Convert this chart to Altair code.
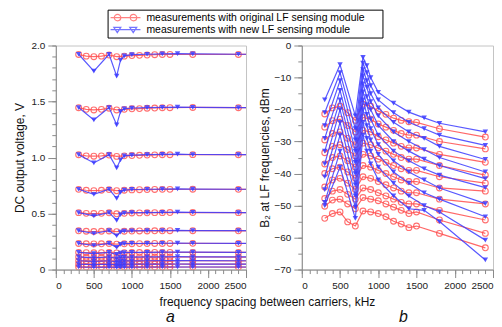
import altair as alt
import pandas as pd

FONT = "Liberation Sans"
ORIG = "measurements with original LF sensing module"
NEW = "measurements with new LF sensing module"
RED = "#ff4d4d"
BLUE = "#3c3cff"

# frequency spacing (kHz) at which each series was measured
x_orig = [300, 400, 500, 600, 700, 800, 900, 1000, 1100, 1200, 1300, 1400, 1500, 1800, 2400]
x_new = [300, 500, 700, 800, 850, 900, 1000, 1200, 1400, 1600, 1800, 2400]

# panel a: DC output voltage, V
a_orig = [
    [1.920, 1.905, 1.900, 1.905, 1.915, 1.900, 1.905, 1.910, 1.912, 1.915, 1.918, 1.920, 1.920, 1.920, 1.920],
    [1.445, 1.430, 1.425, 1.430, 1.440, 1.425, 1.430, 1.435, 1.437, 1.440, 1.442, 1.445, 1.445, 1.447, 1.445],
    [1.025, 1.015, 1.012, 1.015, 1.022, 1.010, 1.015, 1.018, 1.020, 1.022, 1.024, 1.025, 1.025, 1.026, 1.025],
    [0.716, 0.708, 0.705, 0.708, 0.714, 0.704, 0.708, 0.711, 0.713, 0.714, 0.715, 0.716, 0.716, 0.717, 0.716],
    [0.508, 0.502, 0.500, 0.502, 0.507, 0.498, 0.502, 0.505, 0.506, 0.507, 0.508, 0.508, 0.509, 0.509, 0.508],
    [0.346, 0.342, 0.340, 0.342, 0.345, 0.338, 0.342, 0.344, 0.345, 0.345, 0.346, 0.346, 0.347, 0.347, 0.346],
    [0.233, 0.230, 0.229, 0.230, 0.232, 0.227, 0.230, 0.231, 0.232, 0.232, 0.233, 0.233, 0.233, 0.234, 0.233],
    [0.153, 0.151, 0.150, 0.151, 0.152, 0.149, 0.151, 0.152, 0.152, 0.153, 0.153, 0.153, 0.153, 0.154, 0.153],
    [0.112, 0.110, 0.109, 0.110, 0.111, 0.108, 0.110, 0.111, 0.111, 0.112, 0.112, 0.112, 0.112, 0.113, 0.112],
    [0.078, 0.077, 0.076, 0.077, 0.078, 0.075, 0.077, 0.077, 0.078, 0.078, 0.078, 0.078, 0.078, 0.079, 0.078],
    [0.048, 0.047, 0.047, 0.047, 0.048, 0.046, 0.047, 0.047, 0.048, 0.048, 0.048, 0.048, 0.048, 0.049, 0.048],
    [0.022, 0.022, 0.021, 0.022, 0.022, 0.021, 0.022, 0.022, 0.022, 0.022, 0.022, 0.022, 0.022, 0.023, 0.022],
]
a_new = [
    [1.922, 1.771, 1.922, 1.727, 1.869, 1.907, 1.918, 1.922, 1.925, 1.928, 1.925, 1.922],
    [1.446, 1.336, 1.446, 1.292, 1.410, 1.435, 1.442, 1.446, 1.448, 1.450, 1.448, 1.446],
    [1.026, 0.952, 1.026, 0.907, 0.980, 1.015, 1.022, 1.026, 1.028, 1.030, 1.027, 1.026],
    [0.717, 0.671, 0.717, 0.636, 0.690, 0.710, 0.715, 0.717, 0.718, 0.720, 0.718, 0.717],
    [0.509, 0.479, 0.509, 0.440, 0.490, 0.505, 0.508, 0.509, 0.510, 0.512, 0.510, 0.509],
    [0.347, 0.322, 0.347, 0.302, 0.335, 0.344, 0.346, 0.347, 0.348, 0.350, 0.348, 0.347],
    [0.234, 0.215, 0.234, 0.198, 0.225, 0.231, 0.233, 0.234, 0.235, 0.236, 0.235, 0.234],
    [0.154, 0.143, 0.154, 0.135, 0.148, 0.152, 0.153, 0.154, 0.155, 0.156, 0.155, 0.154],
    [0.113, 0.105, 0.113, 0.099, 0.108, 0.111, 0.112, 0.113, 0.114, 0.115, 0.114, 0.113],
    [0.079, 0.073, 0.079, 0.069, 0.076, 0.078, 0.078, 0.079, 0.080, 0.080, 0.080, 0.079],
    [0.049, 0.045, 0.049, 0.042, 0.047, 0.048, 0.048, 0.049, 0.049, 0.050, 0.049, 0.049],
    [0.023, 0.021, 0.023, 0.019, 0.022, 0.022, 0.022, 0.023, 0.023, 0.023, 0.023, 0.023],
]

# panel b: B2 at LF frequencies, dBm
b_orig = [
    [-21.4, -19.5, -19.0, -21.0, -23.4, -18.3, -19.0, -20.5, -21.5, -22.7, -23.4, -23.8, -24.0, -26.0, -28.6],
    [-25.5, -23.5, -23.0, -25.0, -27.0, -22.5, -23.0, -24.5, -25.5, -26.5, -27.5, -28.0, -28.0, -30.0, -32.3],
    [-29.5, -27.5, -27.0, -29.0, -31.0, -26.5, -27.0, -28.5, -29.5, -30.5, -31.5, -32.0, -32.0, -34.0, -36.5],
    [-33.5, -31.5, -31.0, -32.5, -34.5, -30.5, -31.0, -32.0, -33.0, -34.0, -35.0, -35.5, -35.5, -37.5, -40.5],
    [-37.0, -35.0, -34.5, -36.0, -38.0, -34.0, -34.5, -35.5, -36.5, -37.5, -38.5, -39.0, -39.0, -41.0, -43.0],
    [-40.0, -38.5, -38.0, -39.5, -41.5, -37.5, -38.0, -39.0, -40.0, -41.0, -42.0, -42.5, -42.5, -44.5, -45.5],
    [-44.2, -42.0, -41.5, -43.0, -45.0, -41.0, -41.5, -42.5, -43.5, -44.5, -45.5, -46.0, -46.0, -48.0, -49.5],
    [-47.8, -45.5, -45.0, -46.5, -48.0, -44.5, -45.0, -46.0, -47.0, -48.0, -49.0, -49.5, -49.5, -51.5, -54.5],
    [-50.2, -48.3, -48.0, -49.5, -51.0, -47.5, -48.0, -48.5, -49.5, -50.5, -51.5, -52.5, -52.0, -54.5, -58.7],
    [-54.0, -52.5, -52.0, -55.1, -56.4, -51.7, -52.0, -52.5, -53.5, -54.9, -55.8, -56.9, -56.4, -58.7, -63.2],
]
b_new = [
    [-17.0, -6.0, -22.0, -3.7, -6.3, -10.0, -14.6, -18.0, -20.8, -22.6, -24.3, -27.0],
    [-21.0, -8.5, -26.0, -5.5, -8.5, -12.5, -17.0, -21.0, -24.0, -26.0, -28.0, -31.2],
    [-25.0, -11.0, -29.5, -7.5, -11.0, -15.0, -19.5, -24.0, -27.0, -29.0, -31.5, -35.6],
    [-29.0, -14.0, -33.0, -9.5, -13.0, -17.5, -22.0, -27.0, -30.0, -32.5, -35.0, -39.5],
    [-33.0, -17.0, -36.5, -12.0, -16.0, -20.0, -25.0, -30.0, -33.0, -35.5, -37.5, -41.6],
    [-37.0, -20.0, -40.0, -14.5, -18.5, -23.0, -28.0, -33.0, -36.0, -38.5, -40.5, -44.4],
    [-41.0, -24.0, -43.5, -17.0, -21.5, -26.0, -31.0, -36.0, -39.5, -42.0, -44.5, -49.4],
    [-45.0, -28.0, -47.0, -20.0, -25.0, -29.5, -34.0, -39.5, -43.0, -46.0, -48.0, -53.5],
    [-49.0, -33.0, -50.5, -24.0, -29.0, -33.0, -38.0, -43.0, -47.0, -50.0, -52.0, -60.8],
    [-50.0, -38.0, -54.0, -28.0, -33.0, -37.0, -42.0, -47.0, -51.0, -51.5, -55.0, -67.0],
]

x_major = [0, 500, 1000, 1500, 2000, 2500]
x_minor = list(range(0, 2600, 100))
a_major = [0, 0.5, 1.0, 1.5, 2.0]
a_minor = [round(i * 0.1, 1) for i in range(21)]
b_major = [-70, -60, -50, -40, -30, -20, -10, 0]
b_minor = list(range(-70, 1, 5))
panel_labels = ["a", "b"]

# legend symbols: a line with two markers
SYM_O = ("M-1,0L5,0M-0.25,0A0.65,0.65 0 1,0 1.05,0A0.65,0.65 0 1,0 -0.25,0"
         "M2.95,0A0.65,0.65 0 1,0 4.25,0A0.65,0.65 0 1,0 2.95,0")
SYM_N = "M-1,0L5,0M-0.35,-0.45L1.05,-0.45L0.35,0.6ZM2.85,-0.45L4.25,-0.45L3.55,0.6Z"


def rows(xs, curves, series, tag, end=None):
    out = []
    for i, ys in enumerate(curves):
        for x, y in zip(xs, ys):
            out.append({"series": series, "curve": f"{tag}{i}", "x": x, "y": y})
        if end is not None:
            out.append({"series": series, "curve": f"{tag}{i}", "x": end, "y": ys[-1]})
    return pd.DataFrame(out)


W_A, W_B, H = 191, 192, 225


def panel(o_curves, n_curves, ydom, ymajor, yminor, ytitle, ylabel_kw, ytitle_pad,
          xtitle_kw, label, label_x, width, extend, with_legend):
    xs = alt.Scale(domain=[0, 2500], nice=False, zero=False)
    ys = alt.Scale(domain=ydom, nice=False, zero=False)
    ax_x = alt.Axis(values=x_major, format="d", tickSize=8, labelPadding=3, orient="bottom",
                    grid=False, **xtitle_kw)
    ax_xm = alt.Axis(values=x_minor, labels=False, tickSize=4, domain=False, title=None,
                     orient="bottom", grid=False)
    ax_y = alt.Axis(values=ymajor, tickSize=8, labelPadding=3, orient="left", grid=False,
                    title=ytitle, titlePadding=ytitle_pad, **ylabel_kw)
    ax_ym = alt.Axis(values=yminor, labels=False, tickSize=4, domain=False, title=None,
                     orient="left", grid=False)
    end = 2500 if extend else None
    o_pts = rows(x_orig, o_curves, ORIG, "o")
    n_pts = rows(x_new, n_curves, NEW, "n")
    o_line = rows(x_orig, o_curves, ORIG, "o", end)
    n_line = rows(x_new, n_curves, NEW, "n", end)

    l1 = alt.Chart(o_line).mark_line(color=RED, strokeWidth=1.2, opacity=0.85, clip=True).encode(
        x=alt.X("x:Q", scale=xs, axis=ax_x), y=alt.Y("y:Q", scale=ys, axis=ax_y), detail="curve:N")
    p1 = alt.Chart(o_pts).mark_point(shape="circle", color=RED, filled=False, size=34,
                                     strokeWidth=1.1, opacity=0.8, clip=True).encode(
        x=alt.X("x:Q", scale=xs, axis=ax_xm), y=alt.Y("y:Q", scale=ys, axis=ax_ym), detail="curve:N")
    l2 = alt.Chart(n_line).mark_line(color=BLUE, strokeWidth=1.2, opacity=0.85, clip=True).encode(
        x=alt.X("x:Q", scale=xs, axis=None), y=alt.Y("y:Q", scale=ys, axis=None), detail="curve:N")
    p2 = alt.Chart(n_pts).mark_point(shape="triangle-down", color=BLUE, filled=True, size=30,
                                     opacity=0.85, clip=True).encode(
        x=alt.X("x:Q", scale=xs, axis=None), y=alt.Y("y:Q", scale=ys, axis=None), detail="curve:N")
    txt = alt.Chart(pd.DataFrame({"t": [label]})).mark_text(
        font=FONT, fontSize=16, fontStyle="italic", color="#111", baseline="middle", align="center"
    ).encode(text="t:N", x=alt.value(label_x), y=alt.value(H + 48))
    layers = [l1, p1, l2, p2, txt]
    if with_legend:
        # an invisible (white on white) title to the right widens the legend box
        leg = alt.Legend(title="__", titleOrient="right", titleColor="white", titleFontSize=10,
                         titlePadding=4, orient="none", legendX=52, legendY=-36,
                         strokeColor="black", fillColor="white", padding=2, labelFont=FONT,
                         labelFontSize=10.5, labelColor="black", labelLimit=500, symbolSize=100,
                         symbolStrokeWidth=1.2, labelOffset=25, rowPadding=0)
        ldf = pd.DataFrame({"series": [ORIG, NEW], "x": [-1000, -1000], "y": [ydom[0], ydom[0]]})
        lg = alt.Chart(ldf).mark_point(filled=False, clip=True, strokeWidth=1.2).encode(
            x=alt.X("x:Q", scale=xs, axis=None), y=alt.Y("y:Q", scale=ys, axis=None),
            color=alt.Color("series:N", scale=alt.Scale(domain=[ORIG, NEW], range=[RED, BLUE]), legend=leg),
            shape=alt.Shape("series:N", scale=alt.Scale(domain=[ORIG, NEW], range=[SYM_O, SYM_N]), legend=leg),
        )
        layers.append(lg)
    return alt.layer(*layers).resolve_axis(x="independent", y="independent").properties(
        width=width, height=H)


left = panel(a_orig, a_new, [0, 2.0], a_major, a_minor, "DC output voltage, V",
             {"labelExpr": "datum.value == 0 ? '0' : format(datum.value, '.1f')"}, 5,
             {"title": "frequency spacing between carriers, kHz", "titleX": 212, "titleY": 32,
              "titleAlign": "center", "titleBaseline": "middle"},
             panel_labels[0], 115, W_A, True, True)
right = panel(b_orig, b_new, [-70, 0], b_major, b_minor, "B\u2082 at LF frequencies, dBm",
              {"format": "d"}, 2, {"title": None}, panel_labels[1], 102, W_B, False, False)

chart = alt.hconcat(left, right, spacing=56, bounds="flush").properties(
    padding={"left": 4, "top": 0, "right": 0, "bottom": 0}
).configure_view(stroke="#c4c4c4", strokeWidth=1).configure_axis(
    labelFont=FONT, titleFont=FONT, labelFontSize=10, titleFontSize=12, labelColor="#222",
    titleColor="#111", domainColor="#8a8a8a", tickColor="#8a8a8a", titleFontWeight="normal"
)

chart.save("out.html", embed_options={"renderer": "svg", "actions": False})
